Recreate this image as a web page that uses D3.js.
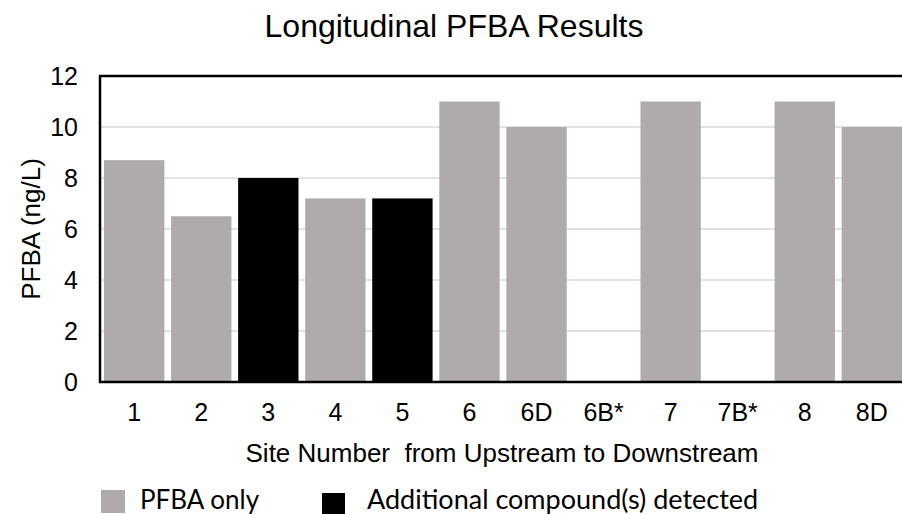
<!DOCTYPE html>
<html>
<head>
<meta charset="utf-8">
<script src="https://cdn.jsdelivr.net/npm/d3@7"></script>
<style>
    body { margin: 0; background: #fff; }
    text { font-family: "Liberation Sans", Arial, sans-serif; fill: #000; }
</style>
</head>
<body>
<div id="chart"></div>
<script>
var sites = ["1", "2", "3", "4", "5", "6", "6D", "6B*", "7", "7B*", "8", "8D"];
var pfba = [8.7, 6.5, 8.0, 7.2, 7.2, 11, 10, null, 11, null, 11, 10];
var additional = [false, false, true, false, true, false, false, false, false, false, false, false];
var yTicks = [0, 2, 4, 6, 8, 10, 12];
var legendLabels = ["PFBA only", "Additional compound(s) detected"];

(function () {
    var width = 902, height = 514;
    var plotLeft = 100, plotTop = 76, plotBottom = 382, plotRight = 906;
    var grey = "#afabab";

    var svg = d3.select("#chart").append("svg")
        .attr("width", width)
        .attr("height", height);

    var x = d3.scaleBand()
        .domain(sites)
        .range([plotLeft, plotRight])
        .paddingInner(0.1)
        .paddingOuter(0.06);

    var y = d3.scaleLinear()
        .domain([0, 12])
        .range([plotBottom, plotTop]);

    // Gridlines
    svg.append("g")
        .selectAll("line")
        .data(yTicks.filter(function (d) { return d > 0 && d < 12; }))
        .enter()
        .append("line")
        .attr("x1", plotLeft)
        .attr("x2", width)
        .attr("y1", function (d) { return y(d); })
        .attr("y2", function (d) { return y(d); })
        .attr("stroke", "#d9d9d9")
        .attr("stroke-width", 1.5);

    // Bars
    var data = sites.map(function (s, i) {
        return { site: s, value: pfba[i], extra: additional[i] };
    });

    svg.append("g")
        .selectAll("rect")
        .data(data.filter(function (d) { return d.value != null; }))
        .enter()
        .append("rect")
        .attr("x", function (d) { return x(d.site); })
        .attr("width", x.bandwidth())
        .attr("y", function (d) { return y(d.value); })
        .attr("height", function (d) { return y(0) - y(d.value); })
        .attr("fill", function (d) { return d.extra ? "#000" : grey; });

    // Plot border
    svg.append("rect")
        .attr("x", plotLeft)
        .attr("y", plotTop)
        .attr("width", plotRight - plotLeft)
        .attr("height", plotBottom - plotTop)
        .attr("fill", "none")
        .attr("stroke", "#000")
        .attr("stroke-width", 2.5);

    // Y axis labels
    var yAxis = d3.axisLeft(y).tickValues(yTicks).tickSize(0).tickPadding(22);
    svg.append("g")
        .attr("transform", "translate(" + plotLeft + ",0)")
        .call(yAxis)
        .call(function (g) { g.select(".domain").remove(); })
        .selectAll("text")
        .style("font-size", "25px")
        .style("font-family", "Liberation Sans, Arial, sans-serif")
        .attr("fill", "#000");

    // X axis labels
    var xAxis = d3.axisBottom(x).tickSize(0).tickPadding(21);
    svg.append("g")
        .attr("transform", "translate(0," + plotBottom + ")")
        .call(xAxis)
        .call(function (g) { g.select(".domain").remove(); })
        .selectAll("text")
        .style("font-size", "25px")
        .style("font-family", "Liberation Sans, Arial, sans-serif")
        .attr("fill", "#000");

    // Titles
    svg.append("text")
        .attr("x", 454)
        .attr("y", 37)
        .attr("text-anchor", "middle")
        .style("font-size", "32px")
        .text("Longitudinal PFBA Results");

    svg.append("text")
        .attr("x", 502)
        .attr("y", 462)
        .attr("text-anchor", "middle")
        .style("font-size", "26px")
        .style("white-space", "pre")
        .text("Site Number  from Upstream to Downstream");

    svg.append("text")
        .attr("transform", "translate(40," + ((plotTop + plotBottom) / 2) + ") rotate(-90)")
        .attr("text-anchor", "middle")
        .style("font-size", "26px")
        .text("PFBA (ng/L)");

    // Legend
    var legendX = [101, 322];
    var legendBoxY = [-2, 1];
    var legendTextX = [39, 45];
    var legend = svg.append("g")
        .selectAll("g")
        .data(legendLabels)
        .enter()
        .append("g")
        .attr("transform", function (d, i) { return "translate(" + legendX[i] + ",492)"; });

    legend.append("rect")
        .attr("y", function (d, i) { return legendBoxY[i]; })
        .attr("width", function (d, i) { return i == 0 ? 24 : 23; })
        .attr("height", 23)
        .attr("fill", function (d, i) { return i == 0 ? grey : "#000"; });

    legend.append("text")
        .attr("x", function (d, i) { return legendTextX[i]; })
        .attr("y", 17)
        .style("font-family", "Lato, 'Open Sans', sans-serif")
        .style("font-size", function (d, i) { return i == 0 ? "26px" : "27px"; })
        .text(function (d) { return d; });
})();
</script>
</body>
</html>
